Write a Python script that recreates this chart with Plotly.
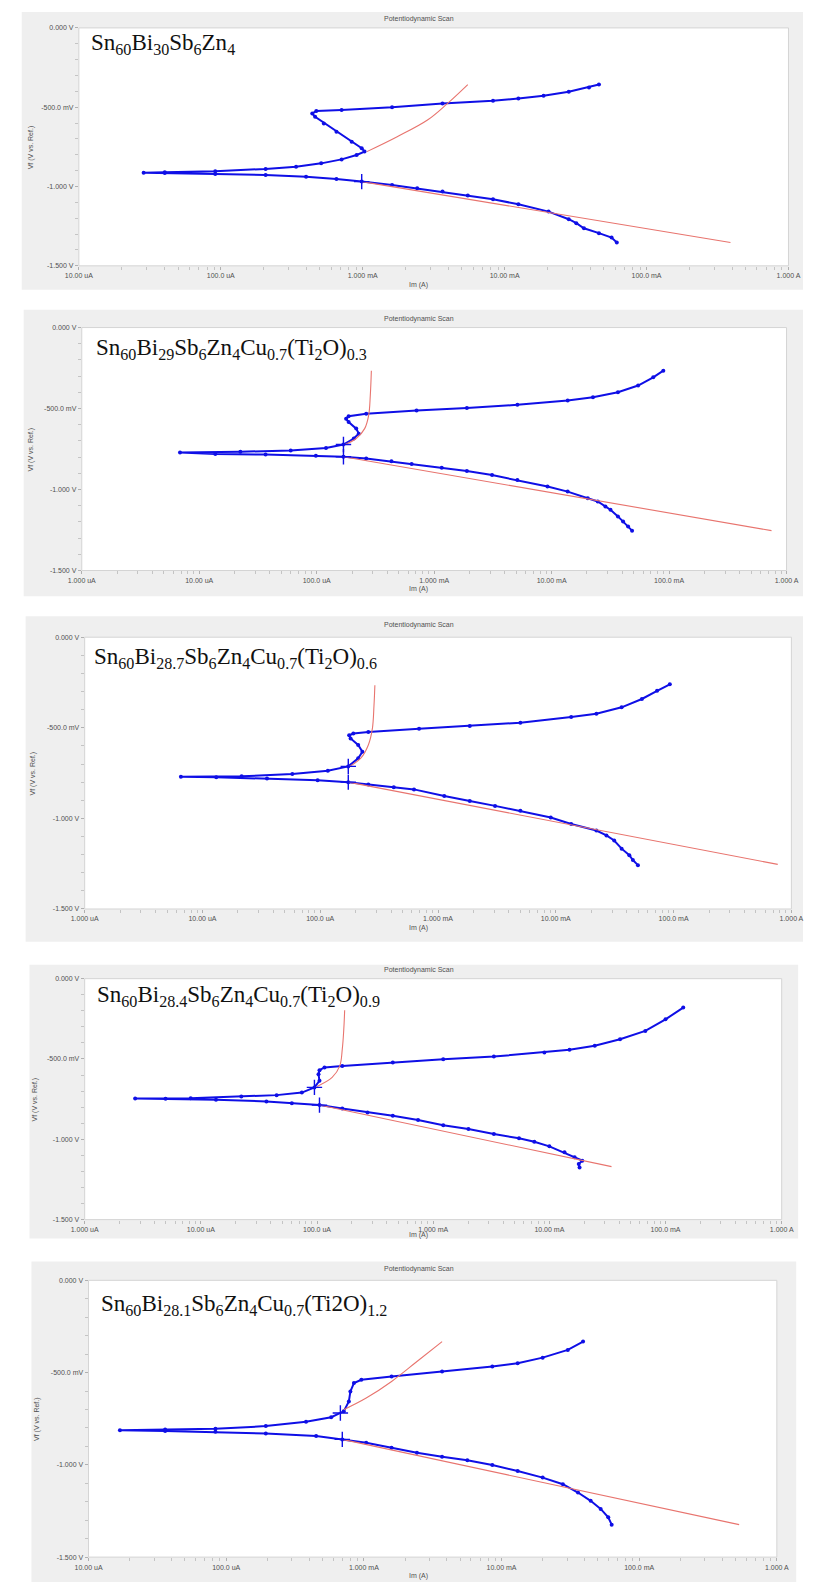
import plotly.graph_objects as go

W, H = 815, 1585

# ---------------- DATA (current in A, potential in V) ----------------
# Panel 1: Sn60Bi30Sb6Zn4
p1_I = [0.0617, 0.0567, 0.0462, 0.0362, 0.0320, 0.0283, 0.0204, 0.0125, 0.00828, 0.00550,
        0.00365, 0.00242, 0.00161, 0.000984, 0.000653, 0.000399, 0.000207, 9.14e-5, 4.03e-5, 2.86e-5,
        4.03e-5, 9.14e-5, 2.07e-4, 3.39e-4, 5.10e-4, 7.10e-4, 9.06e-4, 1.03e-3, 9.84e-4, 8.36e-4,
        6.53e-4, 5.32e-4, 4.62e-4, 4.41e-4, 4.71e-4, 7.10e-4, 1.61e-3, 3.65e-3, 8.28e-3, 0.0125,
        0.0188, 0.0283, 0.0393, 0.0462]
p1_E = [-1.353, -1.322, -1.294, -1.263, -1.231, -1.206, -1.158, -1.112, -1.080, -1.057,
        -1.032, -1.011, -0.990, -0.969, -0.952, -0.938, -0.927, -0.921, -0.915, -0.913,
        -0.910, -0.904, -0.889, -0.875, -0.854, -0.829, -0.801, -0.780, -0.759, -0.717,
        -0.654, -0.602, -0.560, -0.539, -0.524, -0.518, -0.501, -0.476, -0.459, -0.445,
        -0.428, -0.403, -0.375, -0.357]
p1_fitc_I = [9.84e-4, 0.390]
p1_fitc_E = [-0.969, -1.353]
p1_fita_I = [1.07e-3, 1.75e-3, 2.86e-3, 3.96e-3, 5.50e-3]
p1_fita_E = [-0.780, -0.686, -0.581, -0.476, -0.357]
p1_x_I = [9.84e-4]
p1_x_E = [-0.969]

# Panel 2: Sn60Bi29Sb6Zn4Cu0.7(Ti2O)0.3
p2_I = [0.0484, 0.0448, 0.0406, 0.0367, 0.0317, 0.0287, 0.0247, 0.0203, 0.0137, 0.00923,
        0.00511, 0.00311, 0.00190, 0.00116, 6.43e-4, 4.33e-4, 2.64e-4, 1.69e-4, 9.84e-5, 3.67e-5,
        1.37e-5, 6.86e-6,
        2.24e-5, 6.01e-5, 1.20e-4, 1.69e-4, 2.07e-4, 2.28e-4, 2.17e-4, 1.87e-4, 1.78e-4, 1.87e-4,
        2.64e-4, 7.08e-4, 1.90e-3, 5.11e-3, 0.0137, 0.0225, 0.0367, 0.0545, 0.0733, 0.0893]
p2_E = [-1.254, -1.228, -1.197, -1.166, -1.125, -1.105, -1.074, -1.054, -1.013, -0.982,
        -0.941, -0.911, -0.886, -0.866, -0.843, -0.825, -0.808, -0.798, -0.792, -0.784,
        -0.780, -0.771,
        -0.767, -0.759, -0.743, -0.722, -0.685, -0.655, -0.624, -0.583, -0.563, -0.548,
        -0.532, -0.512, -0.497, -0.477, -0.450, -0.430, -0.399, -0.358, -0.307, -0.266]
p2_fitc_I = [1.69e-4, 0.745]
p2_fitc_E = [-0.798, -1.254]
p2_fita_I = [1.69e-4, 2.17e-4, 2.56e-4, 2.77e-4, 2.86e-4, 2.92e-4]
p2_fita_E = [-0.726, -0.685, -0.624, -0.542, -0.419, -0.266]
p2_x_I = [1.69e-4, 1.69e-4]
p2_x_E = [-0.722, -0.798]

# Panel 3: Sn60Bi28.7Sb6Zn4Cu0.7(Ti2O)0.6
p3_I = [0.0498, 0.0451, 0.0421, 0.0362, 0.0313, 0.0269, 0.0221, 0.0135, 0.00906, 0.00500,
        0.00305, 0.00186, 0.00113, 6.25e-4, 4.21e-4, 2.56e-4, 1.73e-4, 9.50e-5, 3.53e-5, 1.31e-5,
        6.56e-6,
        2.15e-5, 5.79e-5, 1.16e-4, 1.73e-4, 2.10e-4, 2.28e-4, 2.10e-4, 1.81e-4, 1.76e-4, 1.91e-4,
        2.56e-4, 6.90e-4, 1.86e-3, 5.00e-3, 0.0135, 0.0221, 0.0362, 0.0538, 0.0724, 0.0929]
p3_E = [-1.258, -1.230, -1.203, -1.167, -1.122, -1.094, -1.067, -1.031, -0.995, -0.958,
        -0.931, -0.904, -0.877, -0.840, -0.828, -0.813, -0.800, -0.789, -0.780, -0.773,
        -0.770,
        -0.768, -0.755, -0.737, -0.713, -0.668, -0.632, -0.595, -0.559, -0.541, -0.532,
        -0.523, -0.505, -0.490, -0.472, -0.441, -0.423, -0.387, -0.341, -0.296, -0.260]
p3_fitc_I = [1.73e-4, 0.766]
p3_fitc_E = [-0.800, -1.254]
p3_fita_I = [1.73e-4, 2.21e-4, 2.56e-4, 2.77e-4, 2.86e-4, 2.91e-4]
p3_fita_E = [-0.717, -0.668, -0.595, -0.505, -0.377, -0.265]
p3_x_I = [1.73e-4, 1.73e-4]
p3_x_E = [-0.713, -0.800]

# Panel 4: Sn60Bi28.4Sb6Zn4Cu0.7(Ti2O)0.9
p4_I = [0.0182, 0.0179, 0.0192, 0.0165, 0.0135, 0.0100, 0.00742, 0.00548, 0.00333, 0.00201,
        0.00122, 7.41e-4, 4.49e-4, 2.72e-4, 1.65e-4, 1.05e-4, 6.07e-5, 3.67e-5, 1.35e-5, 4.97e-6,
        2.72e-6,
        8.18e-6, 2.23e-5, 4.49e-5, 7.41e-5, 9.50e-5, 1.05e-4, 1.03e-4, 1.05e-4, 1.16e-4, 1.65e-4,
        4.49e-4, 1.22e-3, 3.33e-3, 9.06e-3, 0.0149, 0.0246, 0.0406, 0.0670, 0.100, 0.142]
p4_E = [-1.175, -1.154, -1.133, -1.112, -1.081, -1.044, -1.015, -0.994, -0.967, -0.936,
        -0.912, -0.880, -0.854, -0.833, -0.808, -0.787, -0.775, -0.764, -0.754, -0.748,
        -0.746,
        -0.744, -0.733, -0.725, -0.709, -0.677, -0.636, -0.595, -0.570, -0.553, -0.543,
        -0.522, -0.501, -0.485, -0.460, -0.443, -0.418, -0.377, -0.325, -0.253, -0.180]
p4_fitc_I = [1.05e-4, 0.0343]
p4_fitc_E = [-0.787, -1.170]
p4_fita_I = [1.0e-4, 1.35e-4, 1.57e-4, 1.65e-4, 1.70e-4, 1.73e-4]
p4_fita_E = [-0.671, -0.615, -0.543, -0.439, -0.315, -0.197]
p4_x_I = [9.50e-5, 1.05e-4]
p4_x_E = [-0.677, -0.787]

# Panel 5: Sn60Bi28.1Sb6Zn4Cu0.7(Ti2O)1.2
p5_I = [0.0631, 0.0596, 0.0525, 0.0444, 0.0359, 0.0279, 0.0199, 0.0131, 0.00857, 0.00564,
        0.00370, 0.00243, 0.00159, 0.00104, 6.97e-4, 4.50e-4, 1.94e-4, 8.35e-5, 3.60e-5, 1.69e-5,
        3.60e-5, 8.35e-5, 1.94e-4, 3.80e-4, 5.79e-4, 7.14e-4, 7.78e-4, 7.98e-4, 8.47e-4, 9.59e-4,
        1.59e-3, 3.70e-3, 8.57e-3, 0.0131, 0.0199, 0.0303, 0.0391]
p5_E = [-1.324, -1.284, -1.239, -1.195, -1.150, -1.105, -1.069, -1.033, -1.001, -0.975,
        -0.956, -0.934, -0.907, -0.880, -0.862, -0.844, -0.830, -0.821, -0.816, -0.812,
        -0.808, -0.805, -0.790, -0.767, -0.742, -0.710, -0.656, -0.602, -0.557, -0.539,
        -0.521, -0.494, -0.467, -0.449, -0.419, -0.377, -0.332]
p5_fitc_I = [6.97e-4, 0.532]
p5_fitc_E = [-0.862, -1.324]
p5_fita_I = [7.14e-4, 1.04e-3, 1.59e-3, 2.43e-3, 3.70e-3]
p5_fita_E = [-0.701, -0.638, -0.548, -0.440, -0.332]
p5_x_I = [6.75e-4, 6.97e-4]
p5_x_E = [-0.719, -0.862]

labels = [
    "Sn<sub>60</sub>Bi<sub>30</sub>Sb<sub>6</sub>Zn<sub>4</sub>",
    "Sn<sub>60</sub>Bi<sub>29</sub>Sb<sub>6</sub>Zn<sub>4</sub>Cu<sub>0.7</sub>(Ti<sub>2</sub>O)<sub>0.3</sub>",
    "Sn<sub>60</sub>Bi<sub>28.7</sub>Sb<sub>6</sub>Zn<sub>4</sub>Cu<sub>0.7</sub>(Ti<sub>2</sub>O)<sub>0.6</sub>",
    "Sn<sub>60</sub>Bi<sub>28.4</sub>Sb<sub>6</sub>Zn<sub>4</sub>Cu<sub>0.7</sub>(Ti<sub>2</sub>O)<sub>0.9</sub>",
    "Sn<sub>60</sub>Bi<sub>28.1</sub>Sb<sub>6</sub>Zn<sub>4</sub>Cu<sub>0.7</sub>(Ti2O)<sub>1.2</sub>",
]

xt_vals_5 = [1e-5, 1e-4, 1e-3, 1e-2, 1e-1, 1]
xt_text_5 = ["10.00 uA", "100.0 uA", "1.000 mA", "10.00 mA", "100.0 mA", "1.000 A"]
xt_vals_6 = [1e-6, 1e-5, 1e-4, 1e-3, 1e-2, 1e-1, 1]
xt_text_6 = ["1.000 uA", "10.00 uA", "100.0 uA", "1.000 mA", "10.00 mA", "100.0 mA", "1.000 A"]
yt_vals = [0, -0.5, -1.0, -1.5]
yt_text = ["0.000 V", "-500.0 mV", "-1.000 V", "-1.500 V"]

series = [
    (p1_I, p1_E, p1_fitc_I, p1_fitc_E, p1_fita_I, p1_fita_E, p1_x_I, p1_x_E),
    (p2_I, p2_E, p2_fitc_I, p2_fitc_E, p2_fita_I, p2_fita_E, p2_x_I, p2_x_E),
    (p3_I, p3_E, p3_fitc_I, p3_fitc_E, p3_fita_I, p3_fita_E, p3_x_I, p3_x_E),
    (p4_I, p4_E, p4_fitc_I, p4_fitc_E, p4_fita_I, p4_fita_E, p4_x_I, p4_x_E),
    (p5_I, p5_E, p5_fitc_I, p5_fitc_E, p5_fita_I, p5_fita_E, p5_x_I, p5_x_E),
]

# ---------------- LAYOUT GEOMETRY (pixels) ----------------
geom = [
    dict(frame=(8, 8, 815, 287), plot=(67, 24, 800, 263), title_y=15, xt_y=282, yt_x=17, lab=(77, 40), six=False),
    dict(frame=(10, 307, 815, 595), plot=(70, 325, 798, 569), title_y=316, xt_y=588, yt_x=18, lab=(83, 347), six=True),
    dict(frame=(12, 615, 815, 942), plot=(73, 636, 803, 909), title_y=624, xt_y=928, yt_x=20, lab=(81, 657), six=True),
    dict(frame=(16, 965, 810, 1240), plot=(73, 979, 793, 1221), title_y=970, xt_y=1236, yt_x=22, lab=(84, 996), six=True),
    dict(frame=(18, 1263, 808, 1585), plot=(77, 1282, 788, 1560), title_y=1271, xt_y=1579, yt_x=23, lab=(88, 1307), six=False),
]

def px(x):
    return x / W

def py(y):
    return 1 - y / H

BLUE = "#0f0fe6"
RED = "#e8746e"
TICKF = dict(family="Liberation Sans, Arial", size=7, color="#505050")

fig = go.Figure()
shapes = []
annotations = []
layout_axes = {}

for i, (g, s) in enumerate(zip(geom, series), start=1):
    I, E, fcI, fcE, faI, faE, xI, xE = s
    xa = "x" if i == 1 else f"x{i}"
    ya = "y" if i == 1 else f"y{i}"
    fig.add_trace(go.Scatter(x=I, y=E, mode="lines+markers", xaxis=xa, yaxis=ya,
                             line=dict(color=BLUE, width=2.0), marker=dict(color=BLUE, size=4),
                             showlegend=False, hoverinfo="skip"))
    fig.add_trace(go.Scatter(x=fcI, y=fcE, mode="lines", xaxis=xa, yaxis=ya,
                             line=dict(color=RED, width=1.1), showlegend=False, hoverinfo="skip"))
    fig.add_trace(go.Scatter(x=faI, y=faE, mode="lines", xaxis=xa, yaxis=ya,
                             line=dict(color=RED, width=1.1, shape="spline"), showlegend=False, hoverinfo="skip"))
    fig.add_trace(go.Scatter(x=xI, y=xE, mode="markers", xaxis=xa, yaxis=ya,
                             marker=dict(symbol="cross-thin", size=11, line=dict(color=BLUE, width=1.4)),
                             showlegend=False, hoverinfo="skip"))

    fx0, fy0, fx1, fy1 = g["frame"]
    x0, y0, x1, y1 = g["plot"]
    shapes.append(dict(type="rect", xref="paper", yref="paper", x0=px(fx0), x1=px(fx1), y0=py(fy1), y1=py(fy0),
                       fillcolor="#efefef", line=dict(width=0), layer="below"))
    shapes.append(dict(type="rect", xref="paper", yref="paper", x0=px(x0), x1=px(x1), y0=py(y1), y1=py(y0),
                       fillcolor="white", line=dict(color="#d4d4d4", width=1), layer="below"))

    if g["six"]:
        xr, tv, tt = [-6, 0], xt_vals_6, xt_text_6
    else:
        xr, tv, tt = [-5, 0], xt_vals_5, xt_text_5

    xkey = "xaxis" if i == 1 else f"xaxis{i}"
    ykey = "yaxis" if i == 1 else f"yaxis{i}"
    layout_axes[xkey] = dict(type="log", range=xr, domain=[px(x0), px(x1)], anchor=ya,
                             showgrid=False, zeroline=False, showline=False,
                             tickmode="array", tickvals=tv, ticktext=tt, tickfont=TICKF,
                             ticks="outside", ticklen=3, tickcolor="#b0b0b0",
                             minor=dict(ticks="outside", ticklen=3, tickcolor="#c4c4c4", dtick="D1", showgrid=False),
                             fixedrange=True)
    layout_axes[ykey] = dict(range=[-1.5, 0], domain=[py(y1), py(y0)], anchor=xa,
                             showgrid=False, zeroline=False, showline=False,
                             tickmode="array", tickvals=yt_vals, ticktext=yt_text, tickfont=TICKF,
                             ticks="outside", ticklen=3, tickcolor="#b0b0b0",
                             minor=dict(ticks="outside", ticklen=3, tickcolor="#c4c4c4", dtick=0.1, showgrid=False),
                             fixedrange=True)

    annotations.append(dict(text="Potentiodynamic Scan", xref="paper", yref="paper",
                            x=px(418), y=py(g["title_y"]), showarrow=False,
                            xanchor="center", yanchor="middle", font=TICKF))
    annotations.append(dict(text="Im (A)", xref="paper", yref="paper",
                            x=px(418), y=py(g["xt_y"]), showarrow=False,
                            xanchor="center", yanchor="middle", font=TICKF))
    annotations.append(dict(text="Vf (V vs. Ref.)", xref="paper", yref="paper",
                            x=px(g["yt_x"]), y=py((y0 + y1) / 2), showarrow=False, textangle=-90,
                            xanchor="center", yanchor="middle", font=TICKF))
    lx, ly = g["lab"]
    annotations.append(dict(text=labels[i - 1], xref="paper", yref="paper",
                            x=px(lx), y=py(ly), showarrow=False, xanchor="left", yanchor="middle",
                            font=dict(family="Liberation Serif, Times New Roman, serif", size=23, color="#111111")))

fig.update_layout(width=W, height=H, margin=dict(l=0, r=0, t=0, b=0),
                  paper_bgcolor="white", plot_bgcolor="white",
                  shapes=shapes, annotations=annotations, showlegend=False, **layout_axes)

fig.write_html("out.html", config={"displayModeBar": False, "staticPlot": True},
               post_script="document.body.style.margin='0px';document.body.style.overflow='hidden';")
